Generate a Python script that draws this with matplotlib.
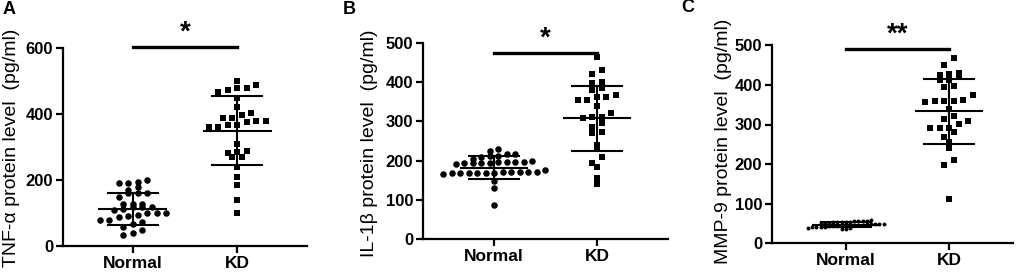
import numpy as np
import matplotlib
matplotlib.use("Agg")
import matplotlib.pyplot as plt

plt.rcParams["font.family"] = ["Liberation Sans", "DejaVu Sans"]

# ---- data (pg/ml) ----
groups = ["Normal", "KD"]

tnf_normal = [180, 192, 194, 192, 200, 160, 162, 162, 170, 150, 128, 119, 112,
              119, 128, 119, 128, 91, 89, 99, 99, 99, 109, 94, 79, 79, 74, 67,
              59, 49, 33, 40]
tnf_kd = [489, 479, 479, 501, 448, 473, 467, 421, 403, 388, 388, 398, 380, 377,
          367, 362, 362, 367, 380, 310, 289, 283, 271, 271, 286, 239, 185, 210,
          140, 101]

il1b_normal = [225, 217, 213, 210, 213, 217, 230, 203, 197, 193, 193, 197, 196,
               193, 193, 191, 197, 199, 176, 170, 170, 168, 168, 166, 168, 168,
               172, 168, 170, 168, 170, 147, 130, 87]
il1b_kd = [463, 430, 420, 397, 399, 384, 367, 380, 361, 355, 355, 361, 339, 320,
           308, 311, 297, 286, 312, 270, 274, 229, 240, 193, 210, 185, 155, 141]

mmp9_normal = [58, 57, 57, 56, 56, 55, 55, 54, 54, 53, 52, 52, 51, 50, 50, 49,
               48, 48, 47, 46, 46, 45, 45, 44, 44, 43, 43, 42, 41, 40, 40, 39,
               38, 37, 36]
mmp9_kd = [467, 450, 431, 425, 428, 419, 413, 412, 397, 394, 375, 362, 360, 358,
           360, 360, 338, 322, 313, 310, 290, 280, 301, 290, 290, 268, 257, 240,
           210, 198, 111]

# mean and SD as drawn
tnf_mean, tnf_sd = [112, 350], [48, 105]
il1b_mean, il1b_sd = [182, 308], [29, 83]
mmp9_mean, mmp9_sd = [47, 334], [6, 82]

panels = [
    dict(letter="A", label="TNF-\u03b1 protein level  (pg/ml)", normal=tnf_normal,
         kd=tnf_kd, mean=tnf_mean, sd=tnf_sd, ymax=600, ticks=[0, 200, 400, 600],
         bar=604, star="*", box=[63, 246, 307, 48.3], xlim=(-0.67, 1.67),
         ylab_x=12, ylab_y=148, let_xy=(9, 10), nsize=22, nbin=7.5, nstep=9.5),
    dict(letter="B", label="IL-1\u03b2 protein level  (pg/ml)", normal=il1b_normal,
         kd=il1b_kd, mean=il1b_mean, sd=il1b_sd, ymax=500,
         ticks=[0, 100, 200, 300, 400, 500], bar=475, star="*",
         box=[423, 239.3, 668, 42.7], xlim=(-0.69, 1.69),
         ylab_x=370, ylab_y=143, let_xy=(349, 9), nsize=22, nbin=7.5, nstep=8.5),
    dict(letter="C", label="MMP-9 protein level  (pg/ml)", normal=mmp9_normal,
         kd=mmp9_kd, mean=mmp9_mean, sd=mmp9_sd, ymax=500,
         ticks=[0, 100, 200, 300, 400, 500], bar=490, star="**",
         box=[772, 243.3, 1013, 45.3], xlim=(-0.715, 1.62),
         ylab_x=723, ylab_y=141, let_xy=(688, 8), nsize=8, nbin=4.5, nstep=4.2),
]

W, H = 1022, 273
fig = plt.figure(figsize=(W / 100, H / 100), dpi=100)


def rows(ax, x0, vals, bin_px, step_px):
    # GraphPad-style layout: points in the same row spread side by side
    pix = ax.transData.transform([(x0, v) for v in vals])
    bins = np.floor(pix[:, 1] / bin_px).astype(int)
    xs = np.zeros(len(vals))
    for b in np.unique(bins):
        idx = np.where(bins == b)[0]
        idx = idx[np.argsort(pix[idx, 1])]
        n = len(idx)
        for k, i in enumerate(idx):
            px = pix[i, 0] + (k - (n - 1) / 2) * step_px
            xs[i] = ax.transData.inverted().transform((px, pix[i, 1]))[0]
    return xs


for p in panels:
    l, b, r, t = p["box"]
    ax = fig.add_axes([l / W, 1 - b / H, (r - l) / W, (b - t) / H])
    ax.set_xlim(*p["xlim"])
    ax.set_ylim(0, p["ymax"])
    for s in ["top", "right"]:
        ax.spines[s].set_visible(False)
    for s in ["left", "bottom"]:
        ax.spines[s].set_linewidth(1.6)
    ax.set_xticks([0, 1])
    ax.set_xticklabels(groups, fontsize=12.5, fontweight="bold")
    ax.set_yticks(p["ticks"])
    ax.set_yticklabels([str(v) for v in p["ticks"]], fontsize=12, fontweight="bold")
    ax.tick_params(width=1.6, length=5, pad=2)

    xn = rows(ax, 0, p["normal"], p["nbin"], p["nstep"])
    ax.scatter(xn, p["normal"], s=p["nsize"], marker="o", color="black", lw=0,
               zorder=3, clip_on=False)
    xk = rows(ax, 1, p["kd"], 9.0, 9.5)
    ax.scatter(xk, p["kd"], s=19, marker="s", color="black", lw=0, zorder=3,
               clip_on=False)

    for i in range(2):
        m, sd = p["mean"][i], p["sd"][i]
        ax.plot([i - 0.32, i + 0.32], [m, m], color="black", lw=1.5, zorder=4)
        ax.plot([i - 0.24, i + 0.24], [m - sd, m - sd], color="black", lw=1.5, zorder=4)
        ax.plot([i - 0.24, i + 0.24], [m + sd, m + sd], color="black", lw=1.5, zorder=4)
        ax.plot([i, i], [m - sd, m + sd], color="black", lw=1.5, zorder=4)

    ax.plot([0, 1], [p["bar"], p["bar"]], color="black", lw=2.4, clip_on=False)
    ax.annotate(p["star"], (0.5, p["bar"]), xytext=(0, 1), textcoords="offset points",
                ha="center", va="bottom", fontsize=20, fontweight="bold",
                annotation_clip=False)

    fig.text(p["ylab_x"] / W, 1 - p["ylab_y"] / H, p["label"], rotation=90,
             ha="center", va="center", fontsize=14)
    fig.text(p["let_xy"][0] / W, 1 - p["let_xy"][1] / H, p["letter"],
             ha="center", va="center", fontsize=13, fontweight="bold")

fig.savefig("out.png", dpi=100)
